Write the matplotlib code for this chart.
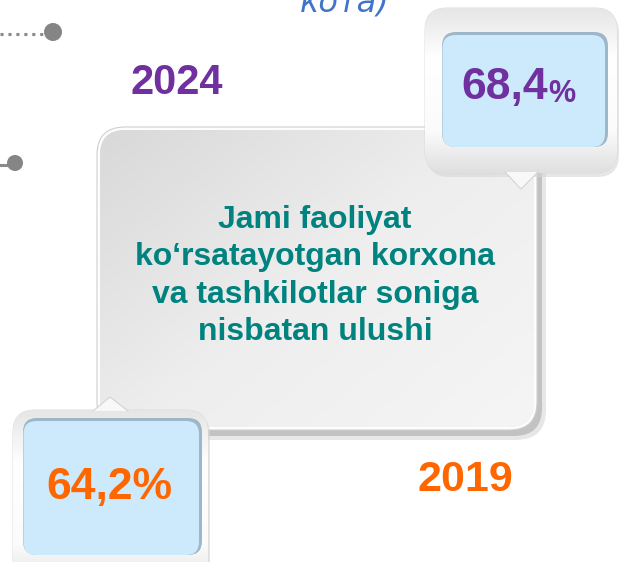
import numpy as np
import matplotlib.pyplot as plt
from matplotlib.patches import FancyBboxPatch, Polygon, Circle
from matplotlib.colors import LinearSegmentedColormap

# data
years = ['2019', '2024']
shares = [64.2, 68.4]
year_colors = ['#ff6600', '#7030a0']
caption = ['Jami faoliyat', 'ko\u2018rsatayotgan korxona',
           'va tashkilotlar soniga', 'nisbatan ulushi']
title_tail = 'кота)'

FONT = 'Liberation Sans'


def fmt(v):
    return f'{v:.1f}'.replace('.', ',')


def rbox(ax, x0, y0, x1, y1, r, z=1, **kw):
    p = FancyBboxPatch((x0, y0), x1 - x0, y1 - y0,
                       boxstyle=f'round,pad=0,rounding_size={r}', zorder=z, **kw)
    ax.add_patch(p)
    return p


def grad_fill(ax, patch, extent, arr, colors, z):
    cm = LinearSegmentedColormap.from_list('g', colors)
    im = ax.imshow(arr, cmap=cm, extent=extent, origin='upper',
                   aspect='auto', zorder=z, interpolation='bilinear', vmin=0, vmax=1)
    im.set_clip_path(patch)


def callout(ax, x0, y0, x1, y1, tri, ix0, iy0, ix1, iy1):
    # soft shadow
    rbox(ax, x0 + 2, y0 + 3, x1 + 2, y1 + 4, 22, z=2, fc='#d6d6d6', ec='none', alpha=0.6)
    outer = rbox(ax, x0, y0, x1, y1, 22, z=3, fc='#f6f6f6', ec='#d8d8d8', lw=0.6)
    yy = np.linspace(0, 1, 100)[:, None] * np.ones((1, 10))
    grad_fill(ax, outer, [x0, x1, y1, y0], yy,
              [(0, '#e6e6e6'), (0.3, '#ffffff'), (0.75, '#fbfbfb'), (1, '#e0e0e0')], 3.1)
    ax.add_patch(Polygon(tri, closed=True, fc='#f8f8f8', ec='none', zorder=3.2))
    ax.plot([tri[0][0], tri[2][0], tri[1][0]], [tri[0][1], tri[2][1], tri[1][1]],
            color='#d0d0d0', lw=0.7, zorder=3.3)
    rbox(ax, ix0, iy0, ix1, iy1, 14, z=4, fc='#9db6c8', ec='none')
    rbox(ax, ix0 + 0.5, iy0 + 3, ix1 - 3, iy1, 13, z=4.1, fc='#cdeafc', ec='none')


fig = plt.figure(figsize=(6.19, 5.62), dpi=100)
ax = fig.add_axes([0, 0, 1, 1])
ax.set_xlim(0, 619)
ax.set_ylim(562, 0)
ax.axis('off')

# main caption box
rbox(ax, 103, 133, 546, 440, 30, z=1, fc='#dedede', ec='none', alpha=0.7)
rbox(ax, 100, 130, 542, 436, 28, z=1.1, fc='#c2c2c2', ec='none')
rbox(ax, 97, 127, 537, 430, 28, z=1.2, fc='#fdfdfd', ec='#cfcfcf', lw=0.8)
inner = rbox(ax, 100, 130, 534, 427, 25, z=1.3, fc='#e6e6e6', ec='none')
X, Y = np.meshgrid(np.linspace(0, 1, 60), np.linspace(0, 1, 60))
grad_fill(ax, inner, [100, 534, 427, 130], 0.55 * X + 0.45 * Y,
          ['#d9d9d9', '#eeeeee', '#f5f5f5'], 1.4)

ax.text(315, 276, '\n'.join(caption), ha='center', va='center',
        fontsize=23, fontweight='bold', color='#00827f', family=FONT,
        linespacing=1.32, zorder=5)

# callouts
callout(ax, 425, 8, 617, 173, [(505, 172), (538, 172), (521, 189)], 442, 32, 608, 147)
callout(ax, 13, 410, 208, 590, [(93, 411), (128, 411), (110, 397)], 23, 418, 202, 555)

# values
ax.text(109, 487, fmt(shares[0]) + '%', ha='center', va='center', fontsize=32,
        fontweight='bold', color=year_colors[0], family=FONT, zorder=6)
ax.text(548, 88, fmt(shares[1]), ha='right', va='center', fontsize=32,
        fontweight='bold', color=year_colors[1], family=FONT, zorder=6)
ax.text(548, 94, '%', ha='left', va='center', fontsize=22,
        fontweight='bold', color=year_colors[1], family=FONT, zorder=6)

# years
ax.text(465, 480, years[0], ha='center', va='center', fontsize=31,
        fontweight='bold', color=year_colors[0], family=FONT)
ax.text(177, 83, years[1], ha='center', va='center', fontsize=30,
        fontweight='bold', color=year_colors[1], family=FONT)

# decorative timeline fragments on the left
ax.plot([0, 46], [34, 34], color='#8a8a8a', lw=2.2,
        linestyle=(0, (1, 1.6)), dash_capstyle='butt')
ax.add_patch(Circle((53, 32), 9, fc='#858585', ec='none'))
ax.plot([0, 6], [165, 165], color='#8a8a8a', lw=2.2)
ax.add_patch(Circle((15, 163), 8, fc='#858585', ec='none'))

# cut-off title above (cut at the top edge as in the reference)
ax.text(300, 12, title_tail, ha='left', va='baseline', fontsize=23,
        style='oblique', color='#4173c9', family='DejaVu Sans')

fig.savefig('out.png', dpi=100)
